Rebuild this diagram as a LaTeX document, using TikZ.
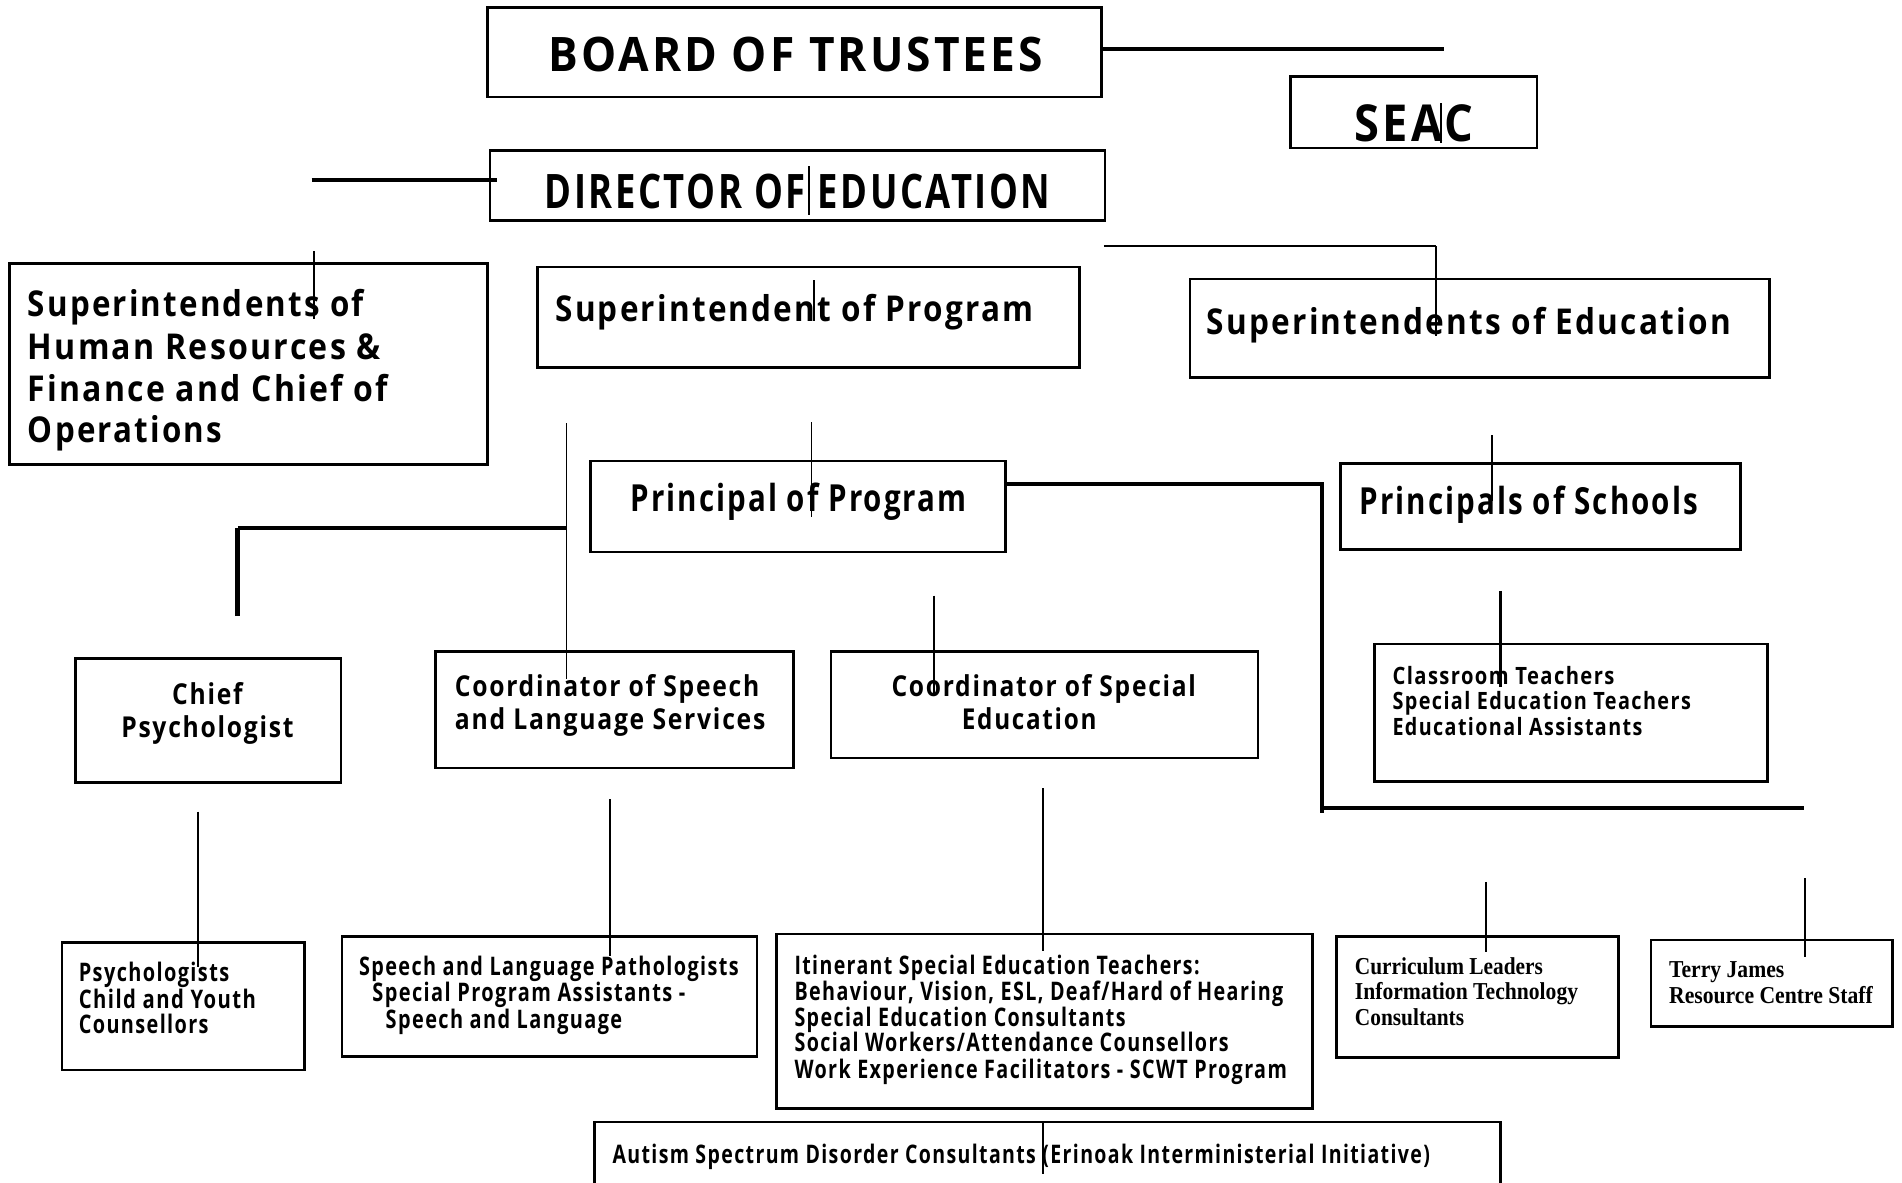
\documentclass[tikz,border=0pt]{standalone}
\usepackage{fontspec}
\usepackage{graphicx}
\setmainfont[LetterSpace=7]{Open Sans}
\newfontfamily\serifb{Liberation Serif}
\usetikzlibrary{fit}
\newdimen\pxu \pxu=0.569055pt
\newcommand\fw[2]{\resizebox{#1\pxu}{\height}{#2}}
\tikzset{
  box/.style={draw, line width=1.25pt, inner sep=0pt},
  txt/.style={anchor=base west, inner sep=0pt, outer sep=0pt},
  fA/.style={font=\bfseries\fontsize{22.3}{26}\selectfont},
  fS/.style={font=\bfseries\fontsize{23.9}{28}\selectfont},
  fB/.style={font=\bfseries\fontsize{16.7}{20}\selectfont},
  fC/.style={font=\bfseries\fontsize{17.5}{20}\selectfont},
  fD/.style={font=\bfseries\fontsize{13.5}{16}\selectfont},
  fE/.style={font=\bfseries\fontsize{12}{14}\selectfont},
  fF/.style={font=\bfseries\fontsize{11.2}{13}\selectfont},
  fG/.style={font=\serifb\bfseries\fontsize{11.4}{13}\selectfont},
  thinl/.style={line width=0.75pt},
  medl/.style={line width=1.1pt},
  thickl/.style={line width=1.9pt},
  heavyl/.style={line width=2.3pt},
}
\begin{document}
\begin{tikzpicture}[x=0.02cm,y=-0.02cm]
\useasboundingbox (0,0) rectangle (1568,975);
\clip (0,0) rectangle (1568,975);
\fill[white] (0,0) rectangle (1568,975);

% boxes
\node[box, fit={(402,6) (908,80)}] (board) {};
\node[box, fit={(1064,63) (1267,122)}] (seac) {};
\node[box, fit={(404,124) (911,182)}] (director) {};
\node[box, fit={(8,217) (402,383)}] (suphr) {};
\node[box, fit={(443,220) (890,303)}] (supprog) {};
\node[box, fit={(981,230) (1459,311)}] (supedu) {};
\node[box, fit={(487,380) (829,455)}] (prinprog) {};
\node[box, fit={(1105,382) (1435,453)}] (prinsch) {};
\node[box, fit={(62,543) (281,645)}] (chief) {};
\node[box, fit={(359,537) (654,633)}] (coordsp) {};
\node[box, fit={(685,537) (1037,625)}] (coordse) {};
\node[box, fit={(1133,531) (1457,644)}] (class) {};
\node[box, fit={(51,777) (251,882)}] (psych) {};
\node[box, fit={(282,772) (624,871)}] (slp) {};
\node[box, fit={(640,770) (1082,914)}] (itin) {};
\node[box, fit={(1102,772) (1334,872)}] (curr) {};
\node[box, fit={(1361,775) (1560,846)}] (terry) {};
\node[box, fit={(490,925) (1237,995)}] (autism) {};

% texts
\node[txt,fA] (tBoard) at (452,59) {\fw{408}{BOARD OF TRUSTEES}};
\node[txt,fS] (tSeac) at (1117,117) {\fw{98}{SEAC}};
\node[txt,fA] (tDir) at (449,172) {\fw{417}{DIRECTOR OF EDUCATION}};
\node[txt,fB] (tHr1) at (23,261) {\fw{277}{Superintendents of}};
\node[txt,fB] (tHr2) at (23,296) {\fw{291}{Human Resources \&}};
\node[txt,fB] (tHr3) at (23,331) {\fw{297}{Finance and Chief of}};
\node[txt,fB] (tHr4) at (23,365) {\fw{160}{Operations}};
\node[txt,fB] (tSupP) at (458,265) {\fw{394}{Superintendent of Program}};
\node[txt,fB] (tSupE) at (995,276) {\fw{432}{Superintendents of Education}};
\node[txt,fC] (tPrinP) at (520,422) {\fw{277}{Principal of Program}};
\node[txt,fC] (tPrinS) at (1121,424) {\fw{279}{Principals of Schools}};
\node[txt,fD] (tCh1) at (142,581) {\fw{58}{Chief}};
\node[txt,fD] (tCh2) at (100,608) {\fw{142}{Psychologist}};
\node[txt,fD] (tCs1) at (375,574) {\fw{251}{Coordinator of Speech}};
\node[txt,fD] (tCs2) at (375,601) {\fw{256}{and Language Services}};
\node[txt,fD] (tCe1) at (735,574) {\fw{251}{Coordinator of Special}};
\node[txt,fD] (tCe2) at (793,601) {\fw{111}{Education}};
\node[txt,fF] (tCl1) at (1148,564) {\fw{183}{Classroom Teachers}};
\node[txt,fF] (tCl2) at (1148,585) {\fw{246}{Special Education Teachers}};
\node[txt,fF] (tCl3) at (1148,606) {\fw{206}{Educational Assistants}};
\node[txt,fE] (tPs1) at (65,809) {\fw{124}{Psychologists}};
\node[txt,fE] (tPs2) at (65,831) {\fw{146}{Child and Youth}};
\node[txt,fE] (tPs3) at (65,852) {\fw{107}{Counsellors}};
\node[txt,fE] (tSl1) at (296,804) {\fw{313}{Speech and Language Pathologists}};
\node[txt,fE] (tSl2) at (307,826) {\fw{258}{Special Program Assistants -}};
\node[txt,fE] (tSl3) at (318,848) {\fw{195}{Speech and Language}};
\node[txt,fE] (tIt1) at (655,803) {\fw{334}{Itinerant Special Education Teachers:}};
\node[txt,fE] (tIt2) at (655,825) {\fw{403}{Behaviour, Vision, ESL, Deaf/Hard of Hearing}};
\node[txt,fE] (tIt3) at (655,846) {\fw{273}{Special Education Consultants}};
\node[txt,fE] (tIt4) at (655,867) {\fw{358}{Social Workers/Attendance Counsellors}};
\node[txt,fE] (tIt5) at (655,889) {\fw{406}{Work Experience Facilitators - SCWT Program}};
\node[txt,fG] (tCu1) at (1117,803) {\fw{155}{Curriculum Leaders}};
\node[txt,fG] (tCu2) at (1117,824) {\fw{184}{Information Technology}};
\node[txt,fG] (tCu3) at (1117,845) {\fw{90}{Consultants}};
\node[txt,fG] (tTe1) at (1376,806) {\fw{95}{Terry James}};
\node[txt,fG] (tTe2) at (1376,827) {\fw{168}{Resource Centre Staff}};
\node[txt,fE] (tAu) at (505,959) {\fw{674}{Autism Spectrum Disorder Consultants (Erinoak Interministerial Initiative)}};

% free ends of connectors
\coordinate (c1) at (1190,40);
\coordinate (c2a) at (1188,85);   \coordinate (c2b) at (1188,118);
\coordinate (c3) at (257,148);
\coordinate (c4a) at (667,137);   \coordinate (c4b) at (667,177);
\coordinate (c5a) at (259,207);   \coordinate (c5b) at (259,263);
\coordinate (c6a) at (671,231);   \coordinate (c6b) at (671,265);
\coordinate (c7a) at (910,203);   \coordinate (c7b) at (1184,203); \coordinate (c7c) at (1184,277);
\coordinate (c8a) at (467,349);   \coordinate (c8b) at (467,560);
\coordinate (c9a) at (196,508);   \coordinate (c9b) at (196,435.5); \coordinate (c9c) at (467,435.5);
\coordinate (c10a) at (669,348);  \coordinate (c10b) at (669,426);
\coordinate (c11a) at (1090,399); \coordinate (c11b) at (1090,670);
\coordinate (c11c) at (1089,666); \coordinate (c11d) at (1487,666);
\coordinate (c12a) at (1230,359); \coordinate (c12b) at (1230,413);
\coordinate (c13a) at (770,491);  \coordinate (c13b) at (770,574);
\coordinate (c14a) at (1237,487); \coordinate (c14b) at (1237,566);
\coordinate (c15a) at (163,669);  \coordinate (c15b) at (163,797);
\coordinate (c16a) at (503,659);  \coordinate (c16b) at (503,788);
\coordinate (c17a) at (860,650);  \coordinate (c17b) at (860,784);
\coordinate (c18a) at (1225,727); \coordinate (c18b) at (1225,785);
\coordinate (c19a) at (1488,724); \coordinate (c19b) at (1488,789);
\coordinate (c20a) at (860,926);  \coordinate (c20b) at (860,968);

% connectors
\draw[thickl] (board.east |- c1) -- (c1);
\draw[thinl] (c2a) -- (c2b);
\draw[thickl] (c3) -- ([xshift=7\pxu]director.west |- c3);
\draw[thinl] (c4a) -- (c4b);
\draw[thinl] (c5a) -- (c5b);
\draw[thinl] (c6a) -- (c6b);
\draw[medl] (c7a) -- (c7b);
\draw[thinl] (c7b) -- (c7c);
\draw[thinl] (c8a) -- (c8b);
\draw[heavyl] (c9a) -- (c9b);
\draw[thickl] (c9b) -- (c9c);
\draw[thinl] (c10a) -- (c10b);
\draw[thickl] (prinprog.east |- c11a) -- (c11a) -- (c11b);
\draw[thickl] (c11c) -- (c11d);
\draw[thinl] (c12a) -- (c12b);
\draw[thinl] (c13a) -- (c13b);
\draw[medl] (c14a) -- (c14b);
\draw[thinl] (c15a) -- (c15b);
\draw[medl] (c16a) -- (c16b);
\draw[medl] (c17a) -- (c17b);
\draw[medl] (c18a) -- (c18b);
\draw[medl] (c19a) -- (c19b);
\draw[thinl] (c20a) -- (c20b);
\end{tikzpicture}
\end{document}
